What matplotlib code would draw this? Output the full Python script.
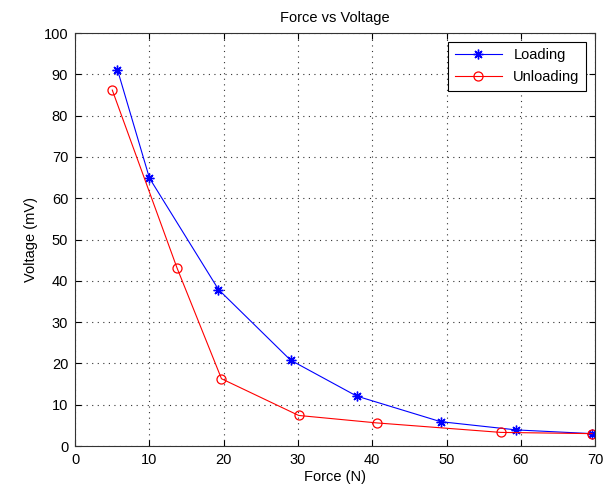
import matplotlib
matplotlib.use("Agg")
import matplotlib.pyplot as plt

# data
load_force = [5.7, 10.0, 19.3, 29.0, 37.9, 49.2, 59.4, 69.6]
load_volt = [91.1, 64.9, 37.9, 20.8, 12.1, 5.9, 3.9, 3.0]
unload_force = [5.0, 13.7, 19.7, 30.1, 40.6, 57.3, 69.6]
unload_volt = [86.2, 43.2, 16.3, 7.4, 5.6, 3.3, 3.0]

plt.rcParams['font.family'] = ['Liberation Sans', 'DejaVu Sans']
fs = 10.5

fig = plt.figure(figsize=(6.16, 4.91), dpi=100)
ax = fig.add_axes([0.122, 0.0916, 0.844, 0.841])

# matlab style asterisk: + and x together
ax.plot(load_force, load_volt, color='b', marker=(8, 2, 0), markersize=7, markeredgewidth=1,
        linewidth=0.8, label='Loading')
ax.plot(unload_force, unload_volt, color='r', marker='o', markersize=6.5, markerfacecolor='none',
        markeredgewidth=0.9, linewidth=0.8, label='Unloading')

ax.set_xlim(0, 70)
ax.set_ylim(0, 100)
ax.set_xticks(range(0, 71, 10))
ax.set_yticks(range(0, 101, 10))
ax.tick_params(direction='in', top=True, right=True, length=4, labelsize=fs, pad=5)
ax.grid(True, linestyle=(0, (1, 4)), color='#333333', linewidth=0.8)
ax.set_xlabel('Force (N)', fontsize=fs, labelpad=2)
ax.set_ylabel('Voltage (mV)', fontsize=fs)
ax.set_title('Force vs Voltage', fontsize=fs, pad=8)
for s in ax.spines.values():
    s.set_linewidth(0.8)
    s.set_color('#333333')

leg = ax.legend(loc='upper right', fancybox=False, edgecolor='k', framealpha=1, fontsize=fs,
                handlelength=3.2, borderaxespad=0.6, labelspacing=0.55, borderpad=0.45)
leg.get_frame().set_linewidth(0.8)

fig.savefig('out.png', dpi=100)
